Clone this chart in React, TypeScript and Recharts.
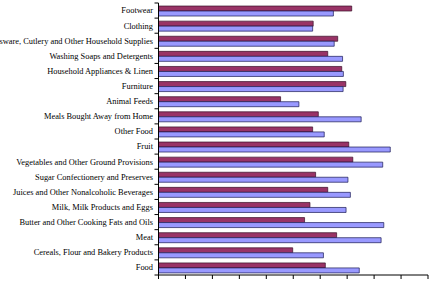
import React from 'react';
import { BarChart, Bar, XAxis, YAxis } from 'recharts';

// Expenditure categories, listed top to bottom
const categories = [
  'Footwear',
  'Clothing',
  'Glassware, Cutlery and Other Household Supplies',
  'Washing Soaps and Detergents',
  'Household Appliances & Linen',
  'Furniture',
  'Animal Feeds',
  'Meals Bought Away from Home',
  'Other Food',
  'Fruit',
  'Vegetables and Other Ground Provisions',
  'Sugar Confectionery and Preserves',
  'Juices and Other Nonalcoholic Beverages',
  'Milk, Milk Products and Eggs',
  'Butter and Other Cooking Fats and Oils',
  'Meat',
  'Cereals, Flour and Bakery Products',
  'Food',
];

// Series values (maroon bars on top, lavender bars below)
const seriesA = [7.17, 5.74, 6.65, 6.28, 6.8, 6.95, 4.53, 5.93, 5.72, 7.06, 7.21, 5.83, 6.28, 5.62, 5.42, 6.61, 4.98, 6.19];
const seriesB = [6.49, 5.72, 6.52, 6.83, 6.86, 6.85, 5.21, 7.52, 6.15, 8.6, 8.32, 7.03, 7.12, 6.96, 8.36, 8.26, 6.12, 7.45];

const xTicks = [0, 1, 2, 3, 4, 5, 6, 7, 8, 9, 10];

const data = categories.map((name, i) => ({ name, a: seriesA[i], b: seriesB[i] }));

const W = 432;
const H = 281;
const M = { top: 3, right: 4, bottom: 0, left: 0 };
const X_AXIS_H = 6;
const Y_AXIS_W = 158.5;
const step = (H - M.top - M.bottom - X_AXIS_H) / categories.length;

const CategoryTick = (props: any) => {
  const { x, y, payload, index } = props;
  const last = index === categories.length - 1;
  return (
    <g>
      <line x1={x - 4} x2={x} y1={y - step / 2} y2={y - step / 2} stroke="#000" strokeWidth={1} />
      {last && <line x1={x - 4} x2={x} y1={y + step / 2} y2={y + step / 2} stroke="#000" strokeWidth={1} />}
      <text
        x={x - 5.5}
        y={y}
        dy="0.35em"
        textAnchor="end"
        fontFamily="'Liberation Serif', 'Times New Roman', serif"
        fontSize={8.4}
        fill="#000"
      >
        {payload.value}
      </text>
    </g>
  );
};

export default function App() {
  return (
    <div style={{ position: 'absolute', left: 0, top: 0, width: W, height: H, background: '#fff' }}>
      <BarChart
        width={W}
        height={H}
        data={data}
        layout="vertical"
        margin={M}
        barCategoryGap="20%"
        barGap={0}
      >
        <XAxis
          type="number"
          domain={[0, 10]}
          ticks={xTicks}
          height={X_AXIS_H}
          tickSize={4}
          tickFormatter={() => ''}
          stroke="#000"
          axisLine={{ stroke: '#000' }}
          tickLine={{ stroke: '#000' }}
          allowDataOverflow
        />
        <XAxis
          xAxisId="top"
          orientation="top"
          type="number"
          domain={[0, 10]}
          height={0}
          tick={false}
          tickLine={false}
          axisLine={{ stroke: '#999' }}
        />
        <YAxis
          type="category"
          dataKey="name"
          width={Y_AXIS_W}
          tickLine={false}
          tickSize={0}
          tickMargin={0}
          axisLine={{ stroke: '#000' }}
          interval={0}
          tick={(p: any) => <CategoryTick {...p} />}
        />
        <YAxis
          yAxisId="right"
          orientation="right"
          type="category"
          dataKey="name"
          width={0}
          tick={false}
          tickLine={false}
          axisLine={{ stroke: '#999' }}
        />
        <Bar dataKey="a" fill="#993366" stroke="#3a1028" strokeWidth={0.7} isAnimationActive={false} />
        <Bar dataKey="b" fill="#9999FF" stroke="#1a1a55" strokeWidth={0.7} isAnimationActive={false} />
      </BarChart>
    </div>
  );
}
